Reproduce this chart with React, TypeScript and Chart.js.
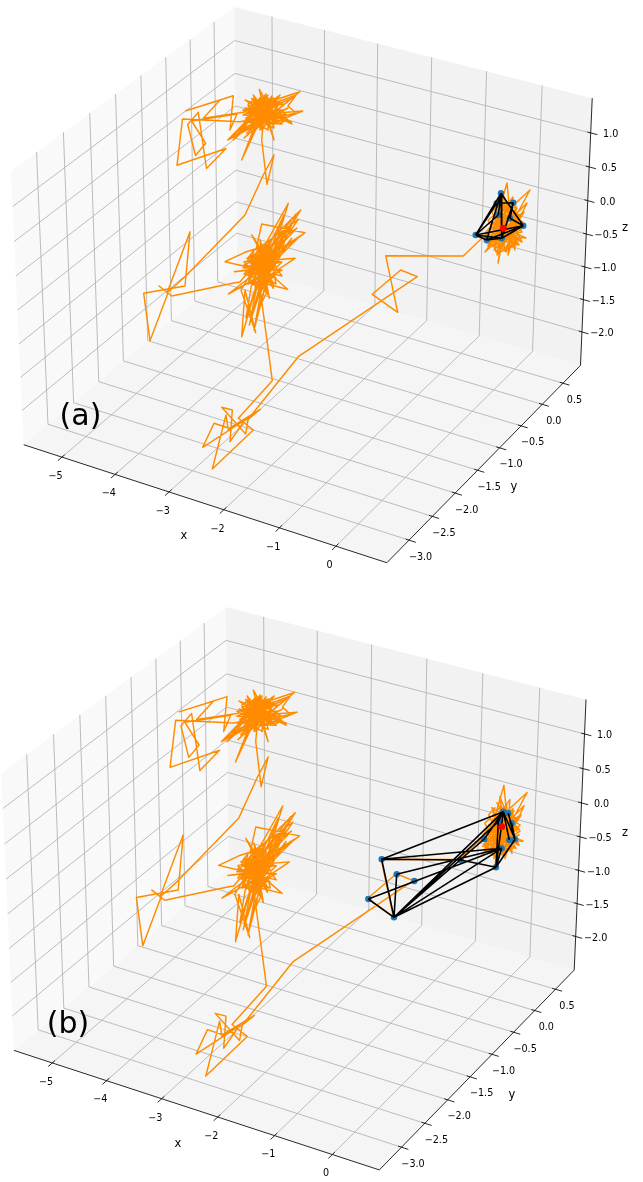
import React, { useEffect, useRef } from "react";
import { Chart, registerables } from "chart.js";

Chart.register(...registerables);

const WIDTH = 643;
const HEIGHT = 1182;

const xTicks = [-5, -4, -3, -2, -1, 0];
const yTicks = [-3, -2.5, -2, -1.5, -1, -0.5, 0, 0.5];
const zTicks = [-2, -1.5, -1, -0.5, 0, 0.5, 1];
const xTickLabels = ["\u22125", "\u22124", "\u22123", "\u22122", "\u22121", "0"];
const yTickLabels = ["\u22123.0", "\u22122.5", "\u22122.0", "\u22121.5", "\u22121.0", "\u22120.5", "0.0", "0.5"];
const zTickLabels = ["\u22122.0", "\u22121.5", "\u22121.0", "\u22120.5", "0.0", "0.5", "1.0"];

// the orange path, read in the plane of the picture of panel (a)
const pathRightBlob = [
  [505, 222], [480, 240], [505, 215], [498, 263], [510, 205], [489, 245], [507, 183], [512, 235], [495, 222], [530, 190], [503, 240], [517, 208], [485, 252], [515, 225], [500, 200], [522, 232], [492, 238], [527, 203], [505, 250], [497, 210], [519, 245], [490, 228], [513, 197], [508, 255], [520, 215], [493, 247], [504, 228], [526, 238], [488, 235], [511, 212], [500, 246], [523, 222], [495, 205], [515, 250], [503, 218], [486, 243], [518, 235], [506, 205], [497, 255], [524, 212], [491, 232], [510, 243], [503, 194], [516, 228], [494, 250],
  [512, 208], [496, 240], [518, 222], [500, 212], [514, 245], [492, 222], [508, 235], [520, 240], [498, 228], [516, 212], [490, 240], [510, 250], [504, 208], [522, 226], [494, 234], [512, 222], [500, 252], [518, 244], [496, 216], [506, 242],
  [492, 212], [498, 205], [496, 214], [504, 203], [502, 212], [510, 201], [508, 212], [516, 206], [513, 216], [522, 214], [516, 222], [523, 228], [517, 232], [522, 242], [514, 238], [515, 248], [508, 244], [506, 252], [500, 246], [496, 252], [494, 244], [488, 246], [490, 238], [486, 232], [491, 226], [488, 220], [493, 216], [505, 225], [498, 232], [510, 228], [502, 220], [514, 222], [506, 236], [497, 224], [512, 240], [500, 238], [508, 220], [480, 240],
];
const pathLink = [
  [463.3, 256], [385.7, 255.7], [397.7, 312.3], [372.3, 294.3], [400.7, 270], [417.3, 276.7], [298.3, 356.7],
];
const pathBottom = [
  [248.3, 419], [260.3, 409.3], [229, 428.3], [214, 423.3], [202.7, 447.3], [245, 420], [230, 441.7], [232.3, 410], [221.7, 407.3], [245.7, 434], [248.3, 418.3], [228.3, 430], [226, 415], [212.3, 469], [253.3, 430], [238.3, 418.3], [272.3, 380.7],
];
const pathMidBlob = [
  [260.7, 293.3], [256, 262], [287.7, 289.3], [250, 280], [268, 245], [245, 252.3], [225, 261.7], [252, 268], [290, 225], [248, 275], [288.3, 203.3], [262, 290], [270, 240], [241.7, 336.7], [245, 290], [255.7, 332.7], [241, 290], [262, 255], [272, 283], [252, 258], [300.7, 210], [258, 278], [298.3, 219.3], [256, 250], [261.7, 224], [305, 232.7], [266, 262], [251.7, 235], [275, 270], [248, 262], [295, 258.3], [255, 285], [291.7, 238.3], [268, 275], [244, 265], [278, 248], [258, 298], [270, 258], [249.3, 325], [264, 270], [269.3, 298.3], [253, 255], [273.3, 288.3], [262, 248], [280, 262], [250, 272], [276, 278], [256, 268], [284, 240], [264, 282], [247, 258], [272, 252], [258, 270], [282, 270], [252, 285], [268, 262], [260, 240], [266, 292], [255, 276],
  [272, 262], [250, 255], [268, 284], [254, 272], [276, 252], [258, 260], [264, 278], [270, 254], [252, 264], [274, 276], [256, 286], [266, 256], [248, 268], [272, 270], [260, 258], [262, 284], [278, 260], [254, 280], [268, 268], [256, 254], [274, 284], [250, 276], [264, 262], [270, 276], [258, 266], [266, 272], [252, 270], [276, 266], [260, 276], [268, 256], [255, 262], [272, 278], [262, 272], [250, 262], [270, 262], [258, 282], [264, 254], [274, 268],
  [248, 258], [254, 250], [252, 258], [260, 248], [258, 256], [266, 246], [264, 256], [272, 248], [270, 258], [278, 254], [274, 262], [282, 262], [276, 268], [282, 276], [274, 274], [276, 284], [268, 280], [266, 290], [260, 284], [256, 290], [254, 282], [248, 284], [250, 276], [244, 274], [250, 268], [244, 262],
  [270, 255], [292, 222], [276, 250], [297, 228], [272, 246], [284, 215], [266, 252], [296, 214], [278, 258], [300, 236], [262, 260], [252, 282], [246, 318], [258, 280], [250, 322], [262, 286], [254, 330], [266, 284], [258, 310], [268, 290], [262, 275],
  [228.3, 294], [262, 268], [234.3, 271.7], [270, 268], [243, 268], [276, 258], [254, 262], [266, 250], [240, 282], [235, 282.7],
];
const pathLeft = [
  [171.7, 296], [159, 286], [168, 293], [150, 340.7], [143.7, 293.3], [185, 286], [190, 231.7], [167, 293], [185, 276.7], [245, 215], [263.3, 175], [274, 155], [267, 184.3],
];
const pathTopBlob = [
  [261.7, 140], [264, 112], [241.7, 160], [258, 118], [291.7, 121.7], [250, 108], [300, 91.7], [262, 122], [253.3, 95], [270, 118], [227.7, 140], [262, 105], [274, 140], [265, 108], [245, 100], [278, 122], [259.3, 89.3], [268, 125], [302.7, 111], [252, 115], [280, 95], [256, 128], [291.7, 98.3], [246, 118], [268.3, 130], [268, 98], [233.3, 140], [272, 105], [260, 130], [262, 100], [287, 115], [248, 112], [276, 100], [253.3, 131.7], [284, 104], [258, 108], [270, 128], [251.7, 98.3], [282, 124], [244, 122], [266, 94], [258, 124], [288, 108], [250, 126], [274, 112], [238.3, 135], [268, 110], [245, 108], [285, 118], [256, 100], [264, 118], [246.7, 133.3], [275, 106], [260, 112], [280, 110], [254, 120], [272, 96], [262, 116], [243, 115],
  [270, 104], [252, 120], [276, 116], [256, 104], [268, 122], [248, 106], [274, 100], [258, 114], [280, 118], [254, 98], [272, 124], [250, 114], [266, 102], [260, 126], [278, 106], [246, 110], [270, 112], [256, 122], [282, 112], [262, 98], [268, 116], [252, 108], [276, 122], [258, 100], [264, 124], [250, 118], [274, 106], [260, 108], [272, 118], [254, 112], [266, 120], [256, 110], [278, 114], [262, 110], [270, 100], [248, 116], [268, 106], [258, 120],
  [248, 104], [256, 98], [252, 106], [262, 96], [258, 104], [268, 95], [264, 103], [274, 98], [270, 106], [280, 102], [275, 110], [284, 110], [278, 116], [286, 120], [279, 124], [272, 120], [274, 128], [266, 124], [262, 130], [258, 124], [252, 128], [254, 120], [246, 122], [250, 114], [243, 110], [251, 109],
  [283, 100], [296, 95], [288, 106], [296, 113], [284, 116], [292, 124], [280, 118], [247, 120], [232, 137], [250, 125], [236, 132], [252, 118], [240, 128], [255, 128], [244, 138], [258, 126], [250, 140], [262, 118],
];
const pathTopLeft = [
  [240, 121.7], [182.5, 119], [177, 165.3], [226, 148.5], [206.5, 168.5], [198.3, 112.3], [187.7, 124.5], [195.5, 155.5], [205.7, 143.3], [191.7, 121], [237, 114], [230, 130], [233.3, 95.7], [186, 110.7], [220, 100], [203.3, 118.3], [245, 112],
];

// the mesh of panel (a)
const meshNodesA = [
  [501, 193.3], [513.3, 202.7], [523.3, 225.7], [475.7, 235], [486.7, 240], [501.7, 238.3], [498.3, 215], [510, 218.3], [496.7, 203.3],
];
const meshEdgesA = [
  [0, 3], [0, 4], [0, 5], [0, 2], [0, 6], [1, 8], [1, 5], [1, 7], [3, 2], [3, 5], [4, 5], [4, 2], [5, 2], [8, 3], [7, 2], [6, 3], [3, 4],
];
const meshRedA = [[503.3, 228.3]];

// the mesh of panel (b)
const meshNodesB = [
  [381.7, 859.3], [396.7, 874.3], [414.3, 881], [368.3, 899], [394, 917.3], [460.7, 860], [496, 867.3], [501.7, 848.3], [484.3, 839], [503.3, 811.7], [508.3, 813.3], [511.7, 823.3], [498.3, 821.7], [509.3, 840], [515, 839.3],
];
const meshEdgesB = [
  [0, 9], [0, 7], [0, 5], [5, 6], [0, 4], [1, 4], [1, 7], [3, 4], [3, 7], [4, 6], [4, 7], [4, 8], [4, 9], [4, 12], [6, 9], [6, 7], [6, 12], [6, 14], [9, 14], [9, 12], [8, 9], [9, 13], [10, 14], [11, 14],
];
const meshRedB = [[501.7, 826.7]];

const panelA = {
  letter: "(a)", letterAt: [80.5, 417], cx: 307, cy: 272, scaleX: 3642, scaleY: 3642,
  xLim: [-5.73, 0.888], yLim: [-3.466, 0.929], zLim: [-2.523, 1.505],
  xLabelAt: [184, 536], yLabelAt: [514, 487], zLabelAt: [625, 228],
};
const panelB = {
  letter: "(b)", letterAt: [68, 1025], cx: 299, cy: 875.5, scaleX: 3665, scaleY: 3688,
  xLim: [-5.717, 0.803], yLim: [-3.466, 0.959], zLim: [-2.516, 1.493],
  xLabelAt: [178, 1144], yLabelAt: [512, 1095], zLabelAt: [625, 833],
};

type Panel = typeof panelA;
type Pt = { x: number; y: number };

const BOX = [1.14286, 1.14286, 0.85714];
const U = [0.86603, 0.5, 0];
const V = [-0.25, 0.43301, 0.86603];
const W = [0.43301, -0.75, 0.5];

function project(p: Panel, x: number, y: number, z: number): Pt {
  const q = [
    ((x - p.xLim[0]) / (p.xLim[1] - p.xLim[0]) - 0.5) * BOX[0],
    ((y - p.yLim[0]) / (p.yLim[1] - p.yLim[0]) - 0.5) * BOX[1],
    ((z - p.zLim[0]) / (p.zLim[1] - p.zLim[0]) - 0.5) * BOX[2],
  ];
  const dot = (a: number[]) => a[0] * q[0] + a[1] * q[1] + a[2] * q[2];
  const depth = 10 - dot(W);
  return { x: p.cx + (p.scaleX * dot(U)) / depth, y: p.cy - (p.scaleY * dot(V)) / depth };
}

const GAP: Pt = { x: NaN, y: NaN };

function lineSet(data: Pt[], color: string, width: number, order: number, extra: object = {}) {
  return { type: "line", data, borderColor: color, borderWidth: width, pointRadius: 0, tension: 0, fill: false, order, xAxisID: "x", yAxisID: "y", borderJoinStyle: "miter", ...extra };
}

function pane(data: Pt[], color: string) {
  return lineSet(data, color, 0, 100, { fill: "shape", backgroundColor: color, borderColor: color });
}

function frame(p: Panel) {
  const [x0, x1] = p.xLim;
  const [y0, y1] = p.yLim;
  const [z0, z1] = p.zLim;
  const P = (x: number, y: number, z: number) => project(p, x, y, z);
  const sets: any[] = [
    pane([P(x0, y0, z0), P(x0, y1, z0), P(x0, y1, z1), P(x0, y0, z1)], "#f9f9f9"),
    pane([P(x0, y1, z0), P(x1, y1, z0), P(x1, y1, z1), P(x0, y1, z1)], "#f2f2f2"),
    pane([P(x0, y0, z0), P(x1, y0, z0), P(x1, y1, z0), P(x0, y1, z0)], "#f5f5f5"),
  ];
  const grid: Pt[] = [];
  for (const t of xTicks) grid.push(P(t, y0, z0), P(t, y1, z0), P(t, y1, z1), GAP);
  for (const t of yTicks) grid.push(P(x1, t, z0), P(x0, t, z0), P(x0, t, z1), GAP);
  for (const t of zTicks) grid.push(P(x0, y0, t), P(x0, y1, t), P(x1, y1, t), GAP);
  sets.push(lineSet(grid, "#b4b4b4", 0.9, 90));
  sets.push(lineSet([P(x0, y0, z0), P(x1, y0, z0), P(x1, y1, z0), P(x1, y1, z1)], "#111111", 0.9, 80));
  const marks: Pt[] = [];
  const dx = x1 - x0;
  const dy = y1 - y0;
  for (const t of xTicks) marks.push(P(t, y0 + 0.012 * dy, z0), P(t, y0 - 0.018 * dy, z0), GAP);
  for (const t of yTicks) marks.push(P(x1 - 0.009 * dx, t, z0), P(x1 + 0.018 * dx, t, z0), GAP);
  for (const t of zTicks) marks.push(P(x1 - 0.009 * dx, y1, t), P(x1 + 0.018 * dx, y1, t), GAP);
  sets.push(lineSet(marks, "#111111", 0.9, 79));
  return sets;
}

function labelsOf(p: Panel) {
  const out: { text: string; at: Pt; size: number }[] = [];
  const [, x1] = p.xLim;
  const [y0, y1] = p.yLim;
  const [z0] = p.zLim;
  xTicks.forEach((t, i) => {
    const a = project(p, t, y0, z0);
    out.push({ text: xTickLabels[i], at: { x: a.x - 6.3, y: a.y + 19.3 }, size: 9.6 });
  });
  yTicks.forEach((t, i) => {
    const a = project(p, x1, t, z0);
    out.push({ text: yTickLabels[i], at: { x: a.x + 11.5, y: a.y + 17 }, size: 9.6 });
  });
  zTicks.forEach((t, i) => {
    const a = project(p, x1, y1, t);
    out.push({ text: zTickLabels[i], at: { x: a.x + 20, y: a.y + 2 }, size: 9.6 });
  });
  out.push({ text: "x", at: { x: p.xLabelAt[0], y: p.xLabelAt[1] }, size: 11.5 });
  out.push({ text: "y", at: { x: p.yLabelAt[0], y: p.yLabelAt[1] }, size: 11.5 });
  out.push({ text: "z", at: { x: p.zLabelAt[0], y: p.zLabelAt[1] }, size: 11.5 });
  out.push({ text: p.letter, at: { x: p.letterAt[0], y: p.letterAt[1] }, size: 30 });
  return out;
}

const toPts = (a: number[][]): Pt[] => a.map(([x, y]) => ({ x, y }));

function edgesToPts(nodes: number[][], edges: number[][]): Pt[] {
  const out: Pt[] = [];
  for (const [a, b] of edges) {
    out.push({ x: nodes[a][0], y: nodes[a][1] }, { x: nodes[b][0], y: nodes[b][1] }, GAP);
  }
  return out;
}

const wholePath = [...pathRightBlob, ...pathLink, ...pathBottom, ...pathMidBlob, ...pathLeft, ...pathTopBlob, ...pathTopLeft];

function meshSets(nodes: number[][], edges: number[][], red: number[][]) {
  return [
    lineSet(toPts(nodes), "#1f77b4", 0, 40, { showLine: false, pointRadius: 3.2, pointBackgroundColor: "#1f77b4", pointBorderColor: "#1f77b4", pointBorderWidth: 0 }),
    lineSet(edgesToPts(nodes, edges), "#000000", 1.6, 30),
    lineSet(toPts(red), "#ff0000", 0, 20, { showLine: false, pointRadius: 3.4, pointBackgroundColor: "#ff0000", pointBorderColor: "#ff0000", pointBorderWidth: 0 }),
  ];
}

const textPlugin = {
  id: "panelText",
  afterDatasetsDraw(chart: any) {
    const { ctx, scales } = chart;
    ctx.save();
    ctx.fillStyle = "#000000";
    ctx.textAlign = "center";
    ctx.textBaseline = "middle";
    for (const l of [...labelsOf(panelA), ...labelsOf(panelB)]) {
      ctx.font = `${l.size}px "DejaVu Sans"`;
      ctx.fillText(l.text, scales.x.getPixelForValue(l.at.x), scales.y.getPixelForValue(l.at.y));
    }
    ctx.restore();
  },
};

export default function App() {
  const ref = useRef<HTMLCanvasElement>(null);
  useEffect(() => {
    const hidden = { display: false };
    const chart = new Chart(ref.current as any, {
      type: "line",
      data: {
        datasets: [
          ...frame(panelA),
          ...frame(panelB),
          lineSet(toPts(wholePath), "#ff8c00", 1.45, 50, { borderJoinStyle: "round" }),
          lineSet(toPts(wholePath), "#ff8c00", 1.45, 50, { borderJoinStyle: "round", xAxisID: "xb", yAxisID: "yb" }),
          ...meshSets(meshNodesA, meshEdgesA, meshRedA),
          ...meshSets(meshNodesB, meshEdgesB, meshRedB),
        ] as any,
      },
      options: {
        animation: false,
        responsive: false,
        events: [],
        layout: { padding: 0, autoPadding: false },
        plugins: { legend: { display: false }, tooltip: { enabled: false } },
        scales: {
          x: { type: "linear", min: 0, max: WIDTH, ...hidden },
          y: { type: "linear", min: 0, max: HEIGHT, reverse: true, ...hidden },
          xb: { type: "linear", axis: "x", min: 8.9, max: 644.5, ...hidden },
          yb: { type: "linear", axis: "y", min: -589.6, max: 573.2, reverse: true, ...hidden },
        },
      } as any,
      plugins: [textPlugin],
    });
    return () => chart.destroy();
  }, []);
  return (
    <canvas
      ref={ref}
      width={WIDTH}
      height={HEIGHT}
      style={{ position: "absolute", left: 0, top: 0, width: WIDTH, height: HEIGHT, display: "block" }}
    />
  );
}
